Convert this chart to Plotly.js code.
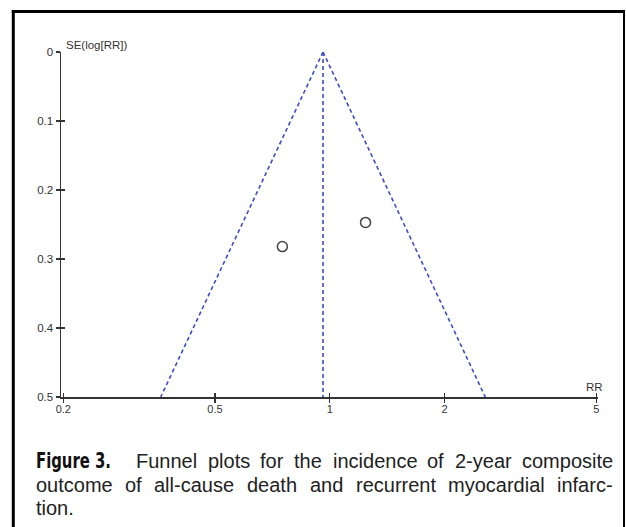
<!DOCTYPE html>
<html>
<head>
<meta charset="utf-8">
<script src="https://cdn.plot.ly/plotly-3.0.1.min.js"></script>
<style>
  html, body { margin: 0; padding: 0; background: #fff; }
  #chart { width: 626px; height: 527px; }
</style>
</head>
<body>
<div id="chart"></div>
<script>
// ---- data ----
const studyRR = [0.751, 1.241];
const studySE = [0.282, 0.247];
const pooledRR = 0.96;
const seLimits = [0, 0.5];
const xTickVals = [0.2, 0.5, 1, 2, 5];
const xTickText = ['0.2', '0.5', '1', '2', '5'];
const yTickVals = [0, 0.1, 0.2, 0.3, 0.4, 0.5];
const yTickText = ['0', '0.1', '0.2', '0.3', '0.4', '0.5'];
const yTitle = 'SE(log[RR])';
const xTitle = 'RR';
const captionBold = 'Figure 3.';
const captionLines = [
  'Funnel plots for the incidence of 2-year composite',
  'outcome of all-cause death and recurrent myocardial infarc-',
  'tion.'
];

// ---- geometry helpers (page pixels -> paper coords) ----
const W = 626, H = 527;
const M = {l: 61, r: 28, t: 52, b: 130};
const PW = W - M.l - M.r, PH = H - M.t - M.b;
const px = v => (v - M.l) / PW;
const py = v => (H - M.b - v) / PH;

const blue = '#3d4dc2';
const z = 1.96;
const lower = seLimits.map(s => pooledRR * Math.exp(-z * s));
const upper = seLimits.map(s => pooledRR * Math.exp(z * s));

const dashLine = {color: blue, width: 1.6, dash: '4px,3px'};
const traces = [
  {x: lower, y: seLimits, mode: 'lines', line: dashLine, hoverinfo: 'skip'},
  {x: upper, y: seLimits, mode: 'lines', line: dashLine, hoverinfo: 'skip'},
  {x: seLimits.map(() => pooledRR), y: seLimits, mode: 'lines', line: dashLine, hoverinfo: 'skip'},
  {x: studyRR, y: studySE, mode: 'markers', marker: {symbol: 'circle-open', size: 10, color: '#444', line: {width: 1.5, color: '#444'}}},
  {x: studyRR, y: studySE, xaxis: 'x2', yaxis: 'y2', mode: 'markers', marker: {opacity: 0}, hoverinfo: 'skip'}
];

const xr = [Math.log10(0.2) - 0.006, Math.log10(5) + 0.0045];
const yr = [0.5, 0];
const tickFont = {family: 'Liberation Sans, Arial, sans-serif', size: 11, color: '#333'};

const annotations = [
  {xref: 'paper', yref: 'paper', x: px(64), y: py(45), xanchor: 'left', yanchor: 'middle',
   text: yTitle, showarrow: false, font: Object.assign({}, tickFont, {size: 11.5})},
  {xref: 'paper', yref: 'paper', x: px(594), y: py(387), xanchor: 'center', yanchor: 'middle',
   text: xTitle, showarrow: false, font: Object.assign({}, tickFont, {size: 11.5})}
];

// caption with justified lines
const capFamily = 'Liberation Sans';
const capSize = 20;
const canvas = document.createElement('canvas');
const ctx = canvas.getContext('2d');
function measure(t) {
  ctx.font = capSize + 'px "' + capFamily + '"';
  return ctx.measureText(t).width;
}
function addLine(text, x0, x1, yc, justify) {
  const words = text.split(' ');
  const widths = words.map(w => measure(w));
  const total = widths.reduce((a, b) => a + b, 0);
  const gap = justify && words.length > 1 ? (x1 - x0 - total) / (words.length - 1) : measure(' ');
  let x = x0;
  words.forEach((w, i) => {
    annotations.push({xref: 'paper', yref: 'paper', x: px(x), y: py(yc), xanchor: 'left', yanchor: 'middle',
      text: w, showarrow: false, borderpad: 0,
      font: {family: capFamily + ', Arial, sans-serif', size: capSize, color: '#222'}});
    x += widths[i] + gap;
  });
}
const boldIndex = annotations.length;
const boldWidth = 75;
annotations.push({xref: 'paper', yref: 'paper', x: px(35), y: py(461), xanchor: 'left', yanchor: 'middle',
  text: '<b>' + captionBold + '</b>', showarrow: false, borderpad: 0,
  font: {family: 'DejaVu Sans Condensed, Liberation Sans Narrow, sans-serif', size: 21, color: '#111'}});
addLine(captionLines[0], 135, 612, 461, true);
addLine(captionLines[1], 35, 612, 485, true);
addLine(captionLines[2], 35, 612, 508, false);

const shapes = [
  {type: 'line', xref: 'paper', yref: 'paper', x0: px(13.3), x1: px(13.3), y0: py(10), y1: py(530), line: {color: '#000', width: 3}},
  {type: 'line', xref: 'paper', yref: 'paper', x0: px(11.8), x1: px(625), y0: py(11.5), y1: py(11.5), line: {color: '#000', width: 3}},
  {type: 'line', xref: 'paper', yref: 'paper', x0: px(624), x1: px(624), y0: py(10), y1: py(530), line: {color: '#000', width: 2}}
];

const layout = {
  width: W, height: H,
  margin: M,
  paper_bgcolor: '#fff', plot_bgcolor: '#fff',
  showlegend: false,
  xaxis: {type: 'log', range: xr, tickvals: xTickVals, ticktext: xTickText, ticks: 'outside', ticklen: 4,
          tickwidth: 1.3, tickcolor: '#333', showline: true, linecolor: '#333', linewidth: 1.5,
          showgrid: false, zeroline: false, tickfont: tickFont, fixedrange: true, ticklabelstandoff: -3},
  yaxis: {range: yr, tickvals: yTickVals, ticktext: yTickText, ticks: 'outside', ticklen: 4,
          tickwidth: 1.3, tickcolor: '#333', showline: true, linecolor: '#333', linewidth: 1.5,
          showgrid: false, zeroline: false, tickfont: Object.assign({}, tickFont, {size: 11.5}), fixedrange: true},
  xaxis2: {type: 'log', range: xr, tickvals: xTickVals, ticks: 'inside', ticklen: 4, tickwidth: 1.3,
           tickcolor: '#333', showticklabels: false, showline: false, showgrid: false, zeroline: false,
           overlaying: 'x', anchor: 'y2'},
  yaxis2: {range: yr, tickvals: yTickVals, ticks: 'inside', ticklen: 4, tickwidth: 1.3,
           tickcolor: '#333', showticklabels: false, showline: false, showgrid: false, zeroline: false,
           overlaying: 'y', anchor: 'x2'},
  annotations: annotations,
  shapes: shapes
};

Plotly.newPlot('chart', traces, layout, {displayModeBar: false, staticPlot: true}).then(gd => {
  // squeeze the bold label to the condensed width of the original, keeping its left edge
  const g = gd.querySelectorAll('.annotation')[boldIndex];
  if (g) {
    const t = g.querySelector('text');
    if (t) {
      const natural = t.getComputedTextLength();
      const x = parseFloat(t.getAttribute('x')) || 0;
      t.setAttribute('textLength', String(boldWidth));
      t.setAttribute('lengthAdjust', 'spacingAndGlyphs');
      t.setAttribute('x', String(x - (natural - boldWidth) / 2));
    }
  }
});
</script>
</body>
</html>
